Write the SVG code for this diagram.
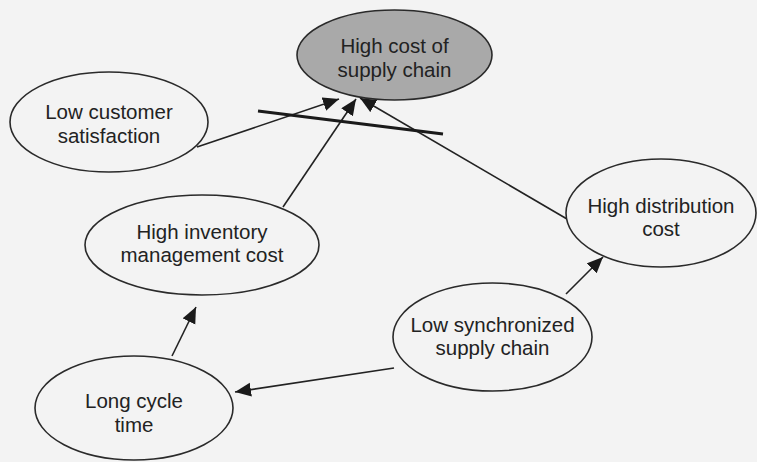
<svg xmlns="http://www.w3.org/2000/svg" width="757" height="462" viewBox="0 0 757 462">
  <defs>
    <marker id="arrow" markerUnits="userSpaceOnUse" markerWidth="17" markerHeight="15" refX="16" refY="7" orient="auto">
      <path d="M0,0 L16,7 L0,14 z" fill="#1a1a1a"/>
    </marker>
  </defs>
  <style>
    .node ellipse { fill: #f3f3f3; stroke: #2a2a2a; stroke-width: 1.6; }
    .node.root ellipse { fill: #a9a9a9; }
    .node text { font-family: "Liberation Sans", Arial, sans-serif; font-size: 20.5px; fill: #222; text-anchor: middle; }
    .edge { stroke: #222; stroke-width: 1.6; fill: none; marker-end: url(#arrow); }
    .bar { stroke: #1a1a1a; stroke-width: 3.2; fill: none; }
  </style>

  <rect width="757" height="462" fill="#f3f3f3"/>

  <!-- connectors -->
  <g id="connectors">
    <line class="edge" x1="197" y1="147" x2="339" y2="99"/>
    <line class="edge" x1="283" y1="207" x2="356" y2="99"/>
    <line class="edge" x1="567" y1="219" x2="360" y2="98"/>
    <line class="edge" x1="566" y1="294" x2="603" y2="257"/>
    <line class="edge" x1="394" y1="368" x2="235" y2="392"/>
    <line class="edge" x1="172" y1="356" x2="196" y2="307"/>
    <line class="bar" x1="258" y1="111" x2="443" y2="134"/>
  </g>

  <!-- nodes -->
  <g id="high-cost" class="node root">
    <ellipse cx="394.5" cy="55" rx="97.5" ry="45"/>
    <text x="394.5" y="53">High cost of</text>
    <text x="394.5" y="77">supply chain</text>
  </g>

  <g id="low-customer-satisfaction" class="node">
    <ellipse cx="109" cy="122" rx="99" ry="50"/>
    <text x="109" y="119">Low customer</text>
    <text x="109" y="143">satisfaction</text>
  </g>

  <g id="high-inventory-cost" class="node">
    <ellipse cx="202" cy="245" rx="117" ry="50"/>
    <text x="202" y="239">High inventory</text>
    <text x="202" y="262">management cost</text>
  </g>

  <g id="high-distribution-cost" class="node">
    <ellipse cx="661" cy="213" rx="95" ry="54"/>
    <text x="661" y="213">High distribution</text>
    <text x="661" y="236">cost</text>
  </g>

  <g id="low-synchronized" class="node">
    <ellipse cx="492.5" cy="337" rx="99.5" ry="54"/>
    <text x="492.5" y="332">Low synchronized</text>
    <text x="492.5" y="355">supply chain</text>
  </g>

  <g id="long-cycle-time" class="node">
    <ellipse cx="134" cy="408" rx="99" ry="52"/>
    <text x="134" y="408">Long cycle</text>
    <text x="134" y="432">time</text>
  </g>
</svg>
